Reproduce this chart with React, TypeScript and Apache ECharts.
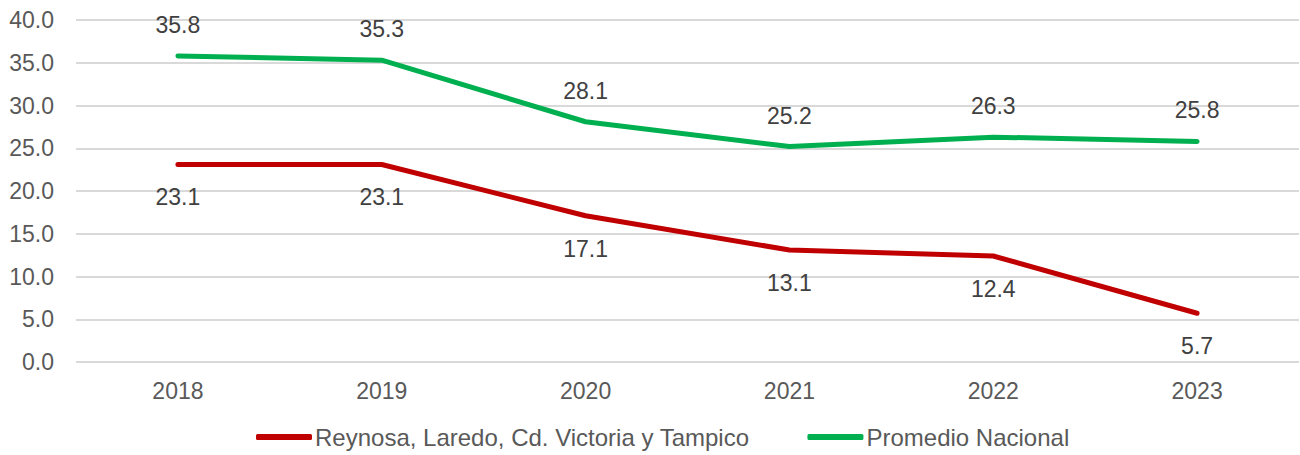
import React, { useEffect, useRef } from "react";
import * as echarts from "echarts";

const years = ["2018", "2019", "2020", "2021", "2022", "2023"];
const regionValues = [23.1, 23.1, 17.1, 13.1, 12.4, 5.7];
const nationalValues = [35.8, 35.3, 28.1, 25.2, 26.3, 25.8];
const regionName = "Reynosa, Laredo, Cd. Victoria y Tampico";
const nationalName = "Promedio Nacional";

export default function App() {
  const ref = useRef<HTMLDivElement>(null);
  useEffect(() => {
    document.body.style.margin = "0";
    const chart = echarts.init(ref.current!, null, { renderer: "svg" });
    const font = "Liberation Sans, Arial, sans-serif";
    const fs = 23;
    chart.setOption({
      animation: false,
      textStyle: { fontFamily: font },
      grid: { left: 76, right: 1, top: 20, bottom: 93, containLabel: false },
      legend: {
        bottom: 1,
        left: 251,
        itemWidth: 56,
        itemHeight: 6,
        itemGap: 58,
        textStyle: { fontSize: 24, color: "#595959", fontFamily: font, padding: [0, 0, 0, -2] },
        data: [
          { name: regionName, icon: "roundRect" },
          { name: nationalName, icon: "roundRect" },
        ],
      },
      xAxis: {
        type: "category",
        data: years,
        boundaryGap: true,
        axisLine: { show: false },
        axisTick: { show: false },
        axisLabel: { fontSize: fs, color: "#595959", margin: 17, fontFamily: font },
      },
      yAxis: {
        type: "value",
        min: 0,
        max: 40,
        interval: 5,
        axisLine: { show: false },
        axisTick: { show: false },
        splitLine: { lineStyle: { color: "#d9d9d9", width: 2 } },
        axisLabel: {
          fontSize: fs,
          color: "#595959",
          margin: 22,
          fontFamily: font,
          formatter: (v: number) => v.toFixed(1),
        },
      },
      series: [
        {
          name: regionName,
          type: "line",
          data: regionValues,
          color: "#C00000",
          symbol: "circle",
          symbolSize: 1,
          showSymbol: true,
          itemStyle: { color: "#C00000" },
          lineStyle: { width: 5, color: "#C00000", cap: "round" },
          label: {
            show: true,
            position: "bottom",
            distance: 21,
            fontSize: fs,
            color: "#404040",
            fontFamily: font,
            formatter: (p: any) => Number(p.value).toFixed(1),
          },
        },
        {
          name: nationalName,
          type: "line",
          data: nationalValues,
          color: "#00B050",
          symbol: "circle",
          symbolSize: 1,
          showSymbol: true,
          itemStyle: { color: "#00B050" },
          lineStyle: { width: 5, color: "#00B050", cap: "round" },
          label: {
            show: true,
            position: "top",
            distance: 19,
            fontSize: fs,
            color: "#404040",
            fontFamily: font,
            formatter: (p: any) => Number(p.value).toFixed(1),
          },
        },
      ],
    });
    return () => chart.dispose();
  }, []);
  return (
    <div
      ref={ref}
      style={{ position: "absolute", left: 0, top: 0, width: 1300, height: 455 }}
    />
  );
}
